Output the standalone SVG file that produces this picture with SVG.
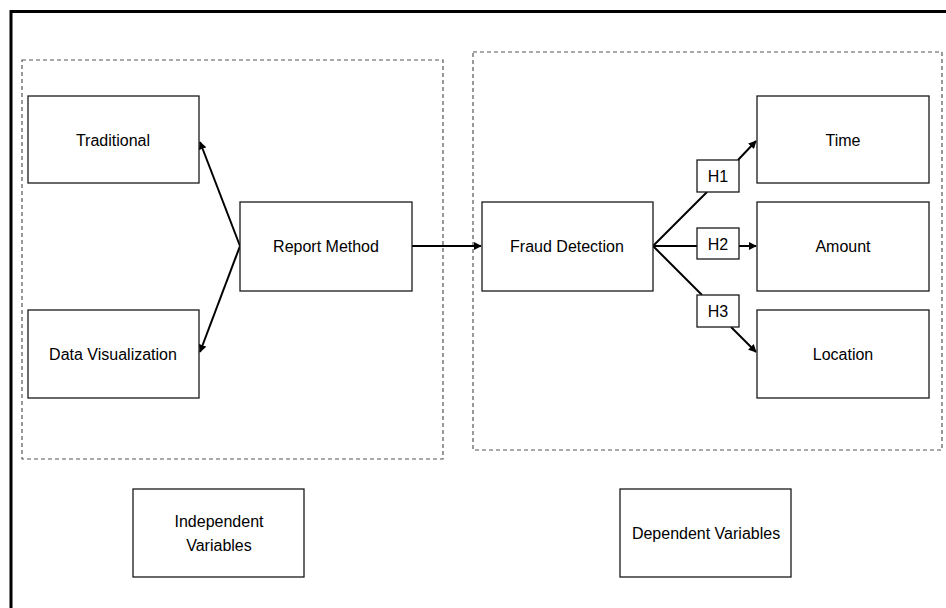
<svg xmlns="http://www.w3.org/2000/svg" width="946" height="608" viewBox="0 0 946 608">
<style>
.box{fill:#fff;stroke:#1a1a1a;stroke-width:1.3}
.grp{fill:none;stroke:#555;stroke-width:1.2;stroke-dasharray:4 3}
.lbl{font-family:"Liberation Sans",Arial,sans-serif;font-size:16px;fill:#000;text-anchor:middle}
.conn{fill:none;stroke:#000;stroke-width:2}
</style>
<defs>
<marker id="arr" viewBox="0 0 10 10" refX="9" refY="5" markerWidth="4" markerHeight="4" orient="auto" markerUnits="strokeWidth">
<path d="M0,0 L10,5 L0,10 Z" fill="#000"/>
</marker>
</defs>
<rect width="946" height="608" fill="#fff"/>
<path d="M11,608 V11.5 H946" fill="none" stroke="#000" stroke-width="3"/>
<g id="groups">
<rect class="grp" x="22" y="60" width="421" height="399"/>
<rect class="grp" x="473" y="52" width="469" height="398"/>
</g>
<g id="connectors">
<line class="conn" x1="240" y1="246" x2="200" y2="142" marker-end="url(#arr)"/>
<line class="conn" x1="240" y1="246" x2="200" y2="352" marker-end="url(#arr)"/>
<line class="conn" x1="412" y1="246" x2="481" y2="246" stroke-width="2.5" marker-end="url(#arr)"/>
<line class="conn" x1="653" y1="246" x2="707" y2="192"/>
<line class="conn" x1="738" y1="160" x2="756" y2="141" marker-end="url(#arr)"/>
<line class="conn" x1="653" y1="246" x2="697" y2="246" stroke-width="2.5"/>
<line class="conn" x1="739" y1="246" x2="756" y2="246" stroke-width="2.5" marker-end="url(#arr)"/>
<line class="conn" x1="653" y1="246" x2="702" y2="295"/>
<line class="conn" x1="731" y1="327" x2="756" y2="352" marker-end="url(#arr)"/>
</g>
<g id="traditional"><rect class="box" x="28" y="96" width="171" height="87"/><text class="lbl" x="113" y="146">Traditional</text></g>
<g id="report-method"><rect class="box" x="240" y="202" width="172" height="89"/><text class="lbl" x="326" y="252">Report Method</text></g>
<g id="data-visualization"><rect class="box" x="28" y="310" width="171" height="88"/><text class="lbl" x="113" y="360">Data Visualization</text></g>
<g id="fraud-detection"><rect class="box" x="482" y="202" width="171" height="89"/><text class="lbl" x="567" y="252">Fraud Detection</text></g>
<g id="time"><rect class="box" x="757" y="96" width="172" height="87"/><text class="lbl" x="843" y="146">Time</text></g>
<g id="amount"><rect class="box" x="757" y="202" width="172" height="89"/><text class="lbl" x="843" y="252">Amount</text></g>
<g id="location"><rect class="box" x="757" y="310" width="172" height="88"/><text class="lbl" x="843" y="360">Location</text></g>
<g id="h1"><rect class="box" x="697" y="160" width="42" height="32"/><text class="lbl" x="718" y="182">H1</text></g>
<g id="h2"><rect class="box" x="697" y="228" width="42" height="31"/><text class="lbl" x="718" y="250">H2</text></g>
<g id="h3"><rect class="box" x="697" y="295" width="42" height="32"/><text class="lbl" x="718" y="317">H3</text></g>
<g id="independent-variables"><rect class="box" x="133" y="489" width="171" height="88"/><text class="lbl" x="219" y="527">Independent</text><text class="lbl" x="219" y="551">Variables</text></g>
<g id="dependent-variables"><rect class="box" x="620" y="489" width="171" height="88"/><text class="lbl" x="706" y="539">Dependent Variables</text></g>
</svg>
